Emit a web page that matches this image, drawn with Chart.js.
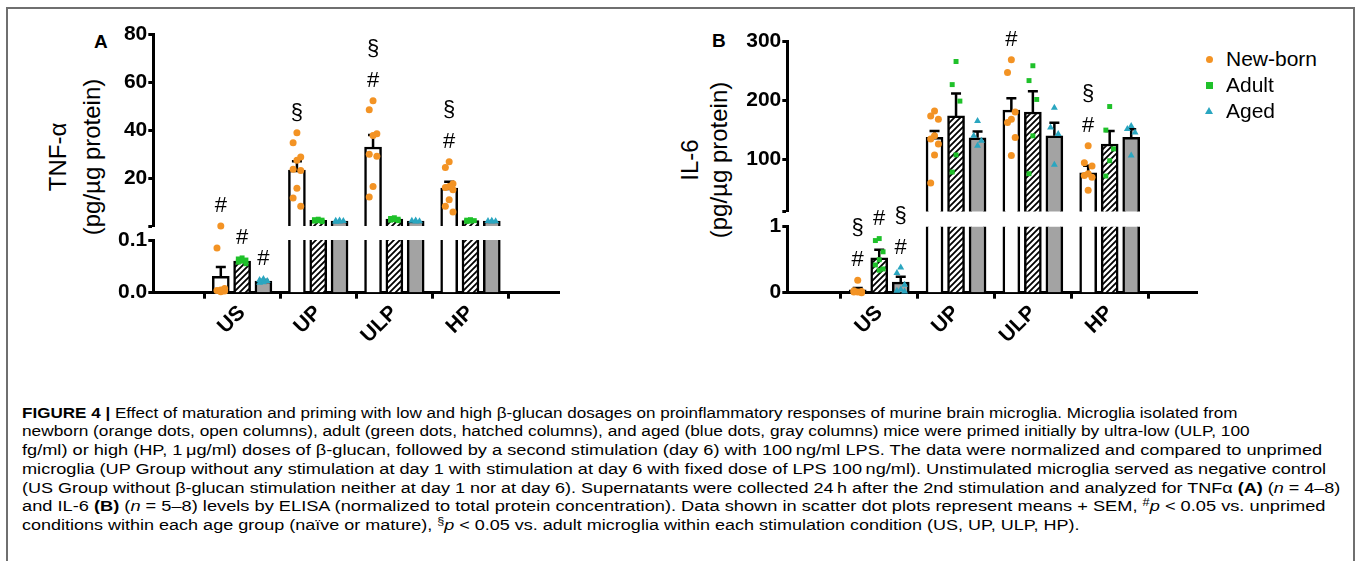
<!DOCTYPE html>
<html>
<head>
<meta charset="utf-8">
<script src="https://cdn.jsdelivr.net/npm/chart.js@4.4.1/dist/chart.umd.min.js"></script>
<style>
  body { margin: 0; background: #fff; }
  #page { position: relative; width: 1357px; height: 561px; overflow: hidden; background: #fff;
          font-family: "Liberation Sans", Arial, Helvetica, sans-serif; color: #000; }
  #frame { position: absolute; left: 6px; top: 7px; width: 1349px; height: 570px; border: 2px solid #6f6f6f; box-sizing: border-box; }
  canvas { position: absolute; }
  .panel { position: absolute; font-weight: bold; font-size: 19px; }
  .ytitle { position: absolute; width: 300px; text-align: center; font-size: 24px; line-height: 26px; height: 26px;
            transform: rotate(-90deg); white-space: nowrap; }
  .leg { position: absolute; left: 1226px; font-size: 21px; line-height: 24px; height: 24px; white-space: nowrap; }
  .mk { position: absolute; }
  #caption { position: absolute; left: 22px; top: 0; }
  .cl { position: absolute; left: 0; white-space: nowrap; font-size: 15.5px; line-height: 18.6px; height: 18.6px; transform-origin: 0 50%; }
  sup { font-size: 0.7em; line-height: 0; vertical-align: 0.5em; }
</style>
</head>
<body>
<div id="page">
  <div id="frame"></div>

  <div class="panel" style="left:94px; top:31px;">A</div>
  <div class="panel" style="left:712px; top:30px;">B</div>

  <div class="ytitle" style="left:-92px; top:144px;">TNF-α</div>
  <div class="ytitle" style="left:-58px; top:144px;">(pg/µg protein)</div>
  <div class="ytitle" style="left:540px; top:147px;">IL-6</div>
  <div class="ytitle" style="left:569px; top:147px;">(pg/µg protein)</div>

  <canvas id="aUpper"></canvas>
  <canvas id="aLower"></canvas>
  <canvas id="bUpper"></canvas>
  <canvas id="bLower"></canvas>

  <div id="legend"></div>

  <div id="caption">
    <div class="cl"><b>FIGURE 4 |</b> Effect of maturation and priming with low and high β-glucan dosages on proinflammatory responses of murine brain microglia. Microglia isolated from</div>
    <div class="cl">newborn (orange dots, open columns), adult (green dots, hatched columns), and aged (blue dots, gray columns) mice were primed initially by ultra-low (ULP, 100</div>
    <div class="cl">fg/ml) or high (HP, 1&#8201;μg/ml) doses of β-glucan, followed by a second stimulation (day 6) with 100&#8201;ng/ml LPS. The data were normalized and compared to unprimed</div>
    <div class="cl">microglia (UP Group without any stimulation at day 1 with stimulation at day 6 with fixed dose of LPS 100&#8201;ng/ml). Unstimulated microglia served as negative control</div>
    <div class="cl">(US Group without β-glucan stimulation neither at day 1 nor at day 6). Supernatants were collected 24&#8201;h after the 2nd stimulation and analyzed for TNFα <b>(A)</b> (<i>n</i> = 4–8)</div>
    <div class="cl">and IL-6 <b>(B)</b> (<i>n</i> = 5–8) levels by ELISA (normalized to total protein concentration). Data shown in scatter dot plots represent means + SEM, <sup>#</sup><i>p</i> &lt; 0.05 vs. unprimed</div>
    <div class="cl">conditions within each age group (naïve or mature), <sup>§</sup><i>p</i> &lt; 0.05 vs. adult microglia within each stimulation condition (US, UP, ULP, HP).</div>
  </div>
</div>

<script>
// categories and series
const categories = ['US', 'UP', 'ULP', 'HP'];
const seriesNames = ['New-born', 'Adult', 'Aged'];

// Panel A: TNF-alpha (pg/ug protein)
const tnfNewbornMean = [0.031, 23.4, 33.0, 15.9];
const tnfNewbornSem = [0.018, 3.7, 5.0, 2.7];
const tnfAdultMean = [0.060, 2.5, 3.0, 2.4];
const tnfAdultSem = [0.002, 0, 0, 0];
const tnfAgedMean = [0.022, 2.2, 2.2, 2.2];
const tnfAgedSem = [0.002, 0, 0, 0];
const tnfNewbornDots = [
    [0.12, 0.085, 0.008, 0.005, 0.004, 0.003, 0.002],
    [38.9, 34.8, 28.9, 27.5, 23.8, 23.2, 15.9, 11.8, 8.4],
    [52.2, 48.5, 38.5, 37.8, 30.0, 29.2, 16.6, 12.2],
    [26.9, 24.5, 17.7, 16.6, 16.2, 15.2, 11.1, 8.4, 6.0]
];
const tnfAdultDots = [
    [0.066, 0.064, 0.062, 0.060, 0.058, 0.055],
    [3.0, 2.8, 2.6, 2.4, 2.2, 2.0],
    [3.6, 3.3, 3.0, 2.8, 2.6, 2.4],
    [2.8, 2.6, 2.4, 2.2, 2.1]
];
const tnfAgedDots = [
    [0.026, 0.024, 0.022, 0.020, 0.019],
    [2.5, 2.3, 2.2, 2.0, 1.9],
    [2.5, 2.3, 2.1, 2.0],
    [2.4, 2.2, 2.1, 2.0]
];
const tnfNewbornMarks = ['#', '§', '#§', '#§'];
const tnfAdultMarks = ['#', '', '', ''];
const tnfAgedMarks = ['#', '', '', ''];
const tnfUpperTicks = [0, 20, 40, 60, 80];
const tnfUpperLabels = ['', '20', '40', '60', '80'];
const tnfLowerTicks = [0, 0.1];
const tnfLowerLabels = ['0.0', '0.1'];

// Panel B: IL-6 (pg/ug protein)
const il6NewbornMean = [0.045, 137.6, 184.0, 77.6];
const il6NewbornSem = [0.025, 11, 20, 12];
const il6AdultMean = [0.53, 174, 180.7, 126.4];
const il6AdultSem = [0.12, 38, 35, 22];
const il6AgedMean = [0.16, 137, 140.3, 137.6];
const il6AgedSem = [0.08, 10.7, 22, 14];
const il6NewbornDots = [
    [0.19, 0.03, 0.02, 0.01, 0.01, 0.0],
    [182.4, 174, 168.4, 140.3, 134.8, 126.4, 107.9, 60.3],
    [269.2, 247.9, 180.7, 168.4, 162.9, 137.6, 106.7],
    [123.5, 94.5, 89, 76, 73, 70, 48]
];
const il6AdultDots = [
    [0.82, 0.79, 0.62, 0.5, 0.42, 0.36, 0.34],
    [266.4, 227.2, 199.2, 107.9, 78.8],
    [259.2, 234, 202, 140.3, 76],
    [190, 150, 118, 98, 72]
];
const il6AgedDots = [
    [0.38, 0.3, 0.12, 0.05, 0.03, 0.02],
    [165.6, 140.3, 132, 123.5],
    [188, 154.4, 143.2, 91],
    [157, 152, 146, 107]
];
const il6NewbornMarks = ['#§', '', '#', '#§'];
const il6AdultMarks = ['#', '', '', ''];
const il6AgedMarks = ['#§', '', '', ''];
const il6UpperTicks = [12, 100, 200, 300];
const il6UpperLabels = ['', '100', '200', '300'];
const il6LowerTicks = [0, 1];
const il6LowerLabels = ['0', '1'];

// styles
const FONT = '"Liberation Sans", Arial, Helvetica, sans-serif';
Chart.defaults.font.family = FONT;
Chart.defaults.color = '#000';
const seriesColors = ['#f39324', '#1fc12a', '#2aa6c0'];
const seriesShapes = ['circle', 'rect', 'triangle'];
const barOffsets = [-0.28, 0, 0.28];
const jitter = [0, -0.05, 0.05];

function hatchPattern() {
    const c = document.createElement('canvas');
    c.width = 6; c.height = 6;
    const g = c.getContext('2d');
    g.fillStyle = '#fff';
    g.fillRect(0, 0, 6, 6);
    g.strokeStyle = '#000';
    g.lineWidth = 1.8;
    g.beginPath();
    g.moveTo(-1, 7); g.lineTo(7, -1);
    g.moveTo(-1, 1); g.lineTo(1, -1);
    g.moveTo(5, 7); g.lineTo(7, 5);
    g.stroke();
    return g.createPattern(c, 'repeat');
}
const barFills = ['#ffffff', hatchPattern(), '#a3a3a3'];

// error bars (mean + SEM) on top of each bar
function errorBarPlugin() {
    return {
        id: 'errorBars',
        afterDatasetDraw(chart, args) {
            const ds = chart.data.datasets[args.index];
            if (!ds.sem) return;
            const y = chart.scales.y, ctx = chart.ctx;
            ctx.save();
            ctx.strokeStyle = '#000';
            ctx.lineWidth = 2.5;
            args.meta.data.forEach((bar, i) => {
                const v = ds.data[i].y, e = ds.sem[i];
                if (v == null || !e || v > y.max) return;
                const base = y.getPixelForValue(v), top = y.getPixelForValue(v + e);
                ctx.beginPath();
                ctx.moveTo(bar.x, base); ctx.lineTo(bar.x, top);
                ctx.moveTo(bar.x - 5, top); ctx.lineTo(bar.x + 5, top);
                ctx.stroke();
            });
            ctx.restore();
        }
    };
}

// significance marks (# and §) stacked above the highest dot
function sigMarkPlugin(p, isUpper) {
    return {
        id: 'sigMarks',
        afterDatasetsDraw(chart) {
            const ctx = chart.ctx, xs = chart.scales.x, ys = chart.scales.y;
            ctx.save();
            ctx.font = '22px ' + FONT;
            ctx.textAlign = 'center';
            ctx.textBaseline = 'middle';
            ctx.fillStyle = '#000';
            p.marks.forEach((row, s) => row.forEach((m, i) => {
                if (!m) return;
                const top = Math.max(...p.dots[s][i]);
                if ((top > p.lowerMax) !== isUpper) return;
                const x = xs.getPixelForValue(i + barOffsets[s]);
                let y = ys.getPixelForValue(top) - 20;
                for (const ch of m) {
                    ctx.fillText(ch, x, y);
                    y -= 32;
                }
            }));
            ctx.restore();
        }
    };
}

function buildChart(p, part) {
    const isUpper = part === 'upper';
    const cfg = p[part];
    const keep = v => isUpper ? v > p.lowerMax : v <= p.lowerMax;
    const datasets = [];

    for (let s = 0; s < 3; s++) {
        datasets.push({
            type: 'scatter',
            label: seriesNames[s],
            data: p.dots[s].flatMap((vals, i) => vals
                .map((v, j) => ({ x: i + barOffsets[s] + jitter[j % 3], y: v }))
                .filter(pt => keep(pt.y))),
            pointStyle: seriesShapes[s],
            pointRadius: s === 2 ? 4 : 3.5,
            backgroundColor: seriesColors[s],
            borderColor: seriesColors[s],
            borderWidth: 0,
            clip: false,
            order: 1
        });
    }
    for (let s = 0; s < 3; s++) {
        datasets.push({
            type: 'bar',
            label: seriesNames[s],
            data: p.means[s].map((v, i) => ({ x: i + barOffsets[s], y: (isUpper && v <= p.lowerMax) ? null : v })),
            sem: p.sems[s],
            backgroundColor: barFills[s],
            borderColor: '#000',
            borderWidth: 2.5,
            borderSkipped: 'start',
            barThickness: 17,
            grouped: false,
            clip: 0,
            order: 2
        });
    }

    const canvas = document.getElementById(cfg.id);
    const box = cfg.box, area = cfg.area;
    canvas.width = box.width;
    canvas.height = box.height;
    canvas.style.left = box.left + 'px';
    canvas.style.top = box.top + 'px';
    const yW = 60, xH = isUpper ? 0 : 70;

    return new Chart(canvas, {
        type: 'bar',
        data: { datasets },
        options: {
            responsive: false,
            devicePixelRatio: 1,
            animation: false,
            events: [],
            layout: {
                padding: {
                    left: area.left - box.left - yW,
                    top: area.top - box.top,
                    right: box.left + box.width - area.right,
                    bottom: box.top + box.height - area.bottom - xH
                }
            },
            plugins: { legend: { display: false }, tooltip: { enabled: false } },
            scales: {
                x: {
                    type: 'linear',
                    display: !isUpper,
                    min: p.xMin,
                    max: p.xMax,
                    afterBuildTicks: sc => { sc.ticks = categories.map((c, i) => ({ value: i })); },
                    afterFit: sc => { sc.height = xH; },
                    ticks: {
                        callback: (v, i) => categories[i],
                        font: { size: 21, weight: 'bold' },
                        minRotation: 45,
                        maxRotation: 45,
                        padding: 2
                    },
                    grid: { drawOnChartArea: false, tickLength: 6, tickWidth: 3, tickColor: '#000' },
                    border: { width: 3, color: '#000' }
                },
                y: {
                    type: 'linear',
                    min: cfg.ticks[0],
                    max: cfg.ticks[cfg.ticks.length - 1],
                    afterBuildTicks: sc => { sc.ticks = cfg.ticks.map(v => ({ value: v })); },
                    afterFit: sc => { sc.width = yW; },
                    ticks: {
                        callback: (v, i) => cfg.labels[i],
                        font: { size: 21, weight: 'bold' },
                        padding: 1
                    },
                    grid: { drawOnChartArea: false, tickLength: 5, tickWidth: 3, tickColor: '#000' },
                    border: { width: 3, color: '#000' }
                }
            }
        },
        plugins: [errorBarPlugin(), sigMarkPlugin(p, isUpper)]
    });
}

const panelA = {
    means: [tnfNewbornMean, tnfAdultMean, tnfAgedMean],
    sems: [tnfNewbornSem, tnfAdultSem, tnfAgedSem],
    dots: [tnfNewbornDots, tnfAdultDots, tnfAgedDots],
    marks: [tnfNewbornMarks, tnfAdultMarks, tnfAgedMarks],
    lowerMax: tnfLowerTicks[tnfLowerTicks.length - 1],
    xMin: -0.5, xMax: 3.5,
    upper: { id: 'aUpper', ticks: tnfUpperTicks, labels: tnfUpperLabels,
             box: { left: 60, top: 0, width: 520, height: 240 },
             area: { left: 153.3, top: 34, right: 559.3, bottom: 229.3 } },
    lower: { id: 'aLower', ticks: tnfLowerTicks, labels: tnfLowerLabels,
             box: { left: 60, top: 208, width: 520, height: 155 },
             area: { left: 153.3, top: 240, right: 559.3, bottom: 292.7 } }
};

const panelB = {
    means: [il6NewbornMean, il6AdultMean, il6AgedMean],
    sems: [il6NewbornSem, il6AdultSem, il6AgedSem],
    dots: [il6NewbornDots, il6AdultDots, il6AgedDots],
    marks: [il6NewbornMarks, il6AdultMarks, il6AgedMarks],
    lowerMax: il6LowerTicks[il6LowerTicks.length - 1],
    xMin: -0.53, xMax: 3.47,
    upper: { id: 'bUpper', ticks: il6UpperTicks, labels: il6UpperLabels,
             box: { left: 700, top: 0, width: 520, height: 225 },
             area: { left: 787.3, top: 41.7, right: 1197, bottom: 213.3 } },
    lower: { id: 'bLower', ticks: il6LowerTicks, labels: il6LowerLabels,
             box: { left: 700, top: 195, width: 520, height: 168 },
             area: { left: 787.3, top: 226.7, right: 1197, bottom: 292.7 } }
};

[panelA, panelB].forEach(p => { buildChart(p, 'upper'); buildChart(p, 'lower'); });

// legend (HTML, markers in the series colours and shapes)
const legend = document.getElementById('legend');
seriesNames.forEach((name, s) => {
    const cy = 59 + s * 26;
    const row = document.createElement('div');
    row.className = 'leg';
    row.style.top = (cy - 12) + 'px';
    row.textContent = name;
    legend.appendChild(row);
    const mk = document.createElement('div');
    mk.className = 'mk';
    if (s === 0) {
        Object.assign(mk.style, { left: '1205.5px', top: (cy - 3.5) + 'px', width: '7px', height: '7px', borderRadius: '50%', background: seriesColors[0] });
    } else if (s === 1) {
        Object.assign(mk.style, { left: '1205.5px', top: (cy - 3.5) + 'px', width: '7px', height: '7px', background: seriesColors[1] });
    } else {
        Object.assign(mk.style, { left: '1205px', top: (cy - 4) + 'px', width: 0, height: 0,
            borderLeft: '4px solid transparent', borderRight: '4px solid transparent', borderBottom: '7px solid ' + seriesColors[2] });
    }
    legend.appendChild(mk);
});

// caption lines: each line stretched to end where the reference line ends
const lineEnds = [1238, 1250, 1322, 1326, 1340, 1325, 1080];
document.querySelectorAll('#caption .cl').forEach((el, k) => {
    el.style.top = (413 - 9.3 + k * 18.7) + 'px';
    el.style.transform = 'scaleX(' + ((lineEnds[k] - 22) / el.scrollWidth) + ')';
});
</script>
</body>
</html>
